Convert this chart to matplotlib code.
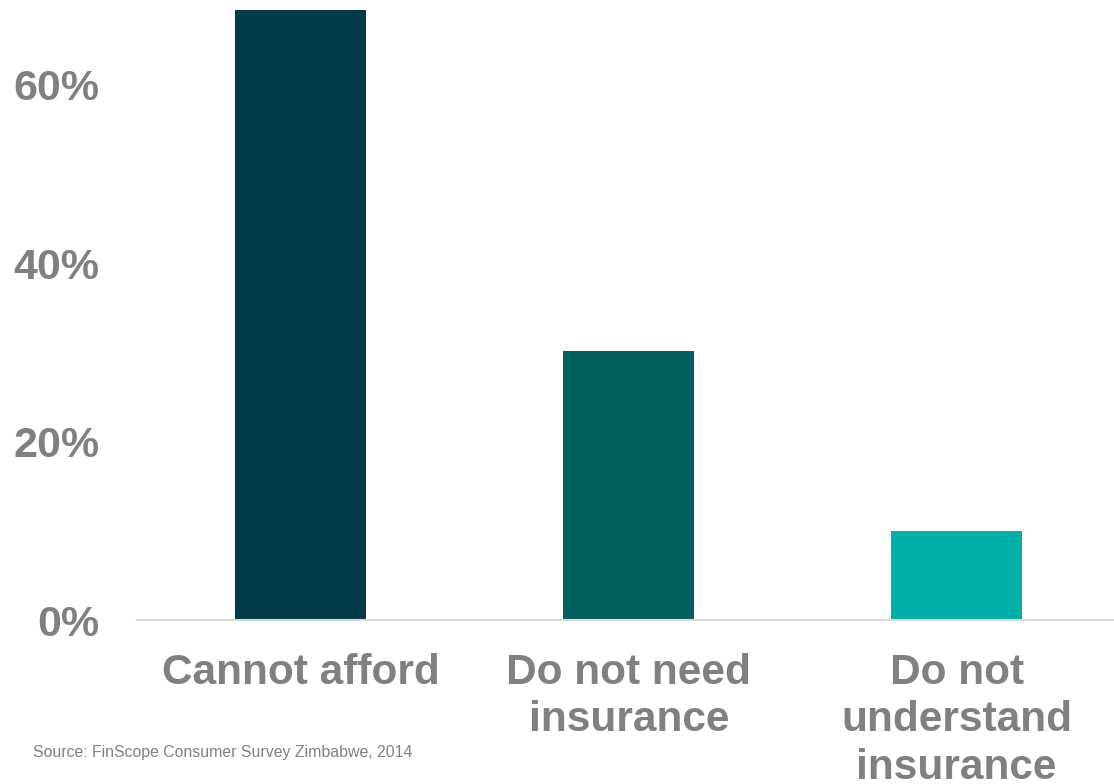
import matplotlib.pyplot as plt
from matplotlib.ticker import FuncFormatter

categories = ["Cannot afford", "Do not need\ninsurance", "Do not\nunderstand\ninsurance"]
shares = [0.684, 0.302, 0.100]
bar_colors = ["#013B48", "#02605F", "#00B0A8"]
yticks = [0, 0.2, 0.4, 0.6]

plt.rcParams['font.family'] = ['Liberation Sans', 'DejaVu Sans']

fig = plt.figure(figsize=(11.14, 7.84), dpi=100)
ax = fig.add_axes([137 / 1114, 1 - 620 / 784, 1 - 137 / 1114, 620 / 784])

x = range(len(categories))
ax.bar(x, shares, width=0.4, color=bar_colors)

ax.set_xlim(-0.5, 2.48)
ax.set_ylim(0, 0.695)
ax.set_yticks(yticks)
ax.yaxis.set_major_formatter(FuncFormatter(lambda v, p: f"{v * 100:.0f}%"))
ax.set_xticks(list(x))
ax.set_xticklabels(categories, linespacing=1.23)

gray = "#808080"
ax.tick_params(axis='y', length=0, pad=27, labelsize=31, labelcolor=gray)
ax.tick_params(axis='x', length=0, pad=24, labelsize=30.5, labelcolor=gray)
for lbl in ax.get_xticklabels() + ax.get_yticklabels():
    lbl.set_fontweight('bold')

for s in ["top", "right", "left"]:
    ax.spines[s].set_visible(False)
ax.spines["bottom"].set_color("#D9D9D9")
ax.spines["bottom"].set_linewidth(1.5)

fig.text(33 / 1114, 1 - 752 / 784, "Source: FinScope Consumer Survey Zimbabwe, 2014",
         fontsize=11.4, color=gray, va='center', ha='left')

fig.savefig("out.png", dpi=100)
